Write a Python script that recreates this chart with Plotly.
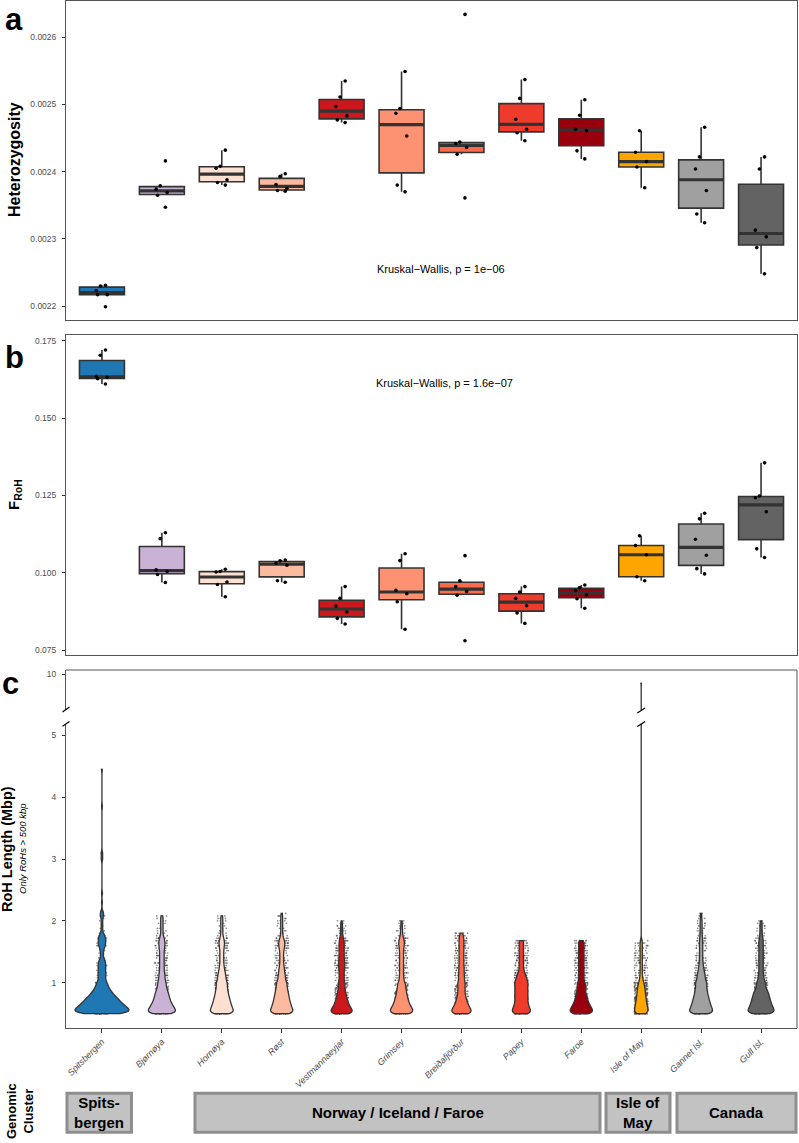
import numpy as np
import plotly.graph_objects as go

# ---------------- data ----------------
POPS = ["Spitsbergen", "Bjørnøya", "Hornøya", "Røst", "Vestmannaeyjar", "Grimsey",
        "Breiðafjörður", "Papey", "Faroe", "Isle of May", "Gannet Isl.", "Gull Isl."]

HET = [
    [0.002199, 0.002217, 0.002217, 0.002223, 0.002230, 0.002231],
    [0.002347, 0.002365, 0.002369, 0.002374, 0.002379, 0.002416],
    [0.002380, 0.002384, 0.002388, 0.002405, 0.002408, 0.002432],
    [0.002371, 0.002372, 0.002375, 0.002381, 0.002393, 0.002397],
    [0.002473, 0.002477, 0.002483, 0.002497, 0.002511, 0.002535],
    [0.002370, 0.002380, 0.002453, 0.002487, 0.002494, 0.002549],
    [0.002361, 0.002426, 0.002436, 0.002442, 0.002444, 0.002634],
    [0.002446, 0.002458, 0.002463, 0.002478, 0.002509, 0.002537],
    [0.002419, 0.002431, 0.002461, 0.002463, 0.002484, 0.002507],
    [0.002376, 0.002407, 0.002415, 0.002429, 0.002461],
    [0.002324, 0.002337, 0.002372, 0.002404, 0.002422, 0.002466],
    [0.002248, 0.002287, 0.002303, 0.002313, 0.002404, 0.002422],
]

FROH = [
    [0.1610, 0.1627, 0.1632, 0.1635, 0.1703, 0.1720],
    [0.0968, 0.0994, 0.1004, 0.1009, 0.1110, 0.1129],
    [0.0922, 0.0962, 0.0970, 0.1002, 0.1004, 0.1011],
    [0.0969, 0.0974, 0.1024, 0.1031, 0.1038, 0.1041],
    [0.0834, 0.0852, 0.0873, 0.0892, 0.0917, 0.0955],
    [0.0817, 0.0906, 0.0932, 0.0943, 0.1039, 0.1061],
    [0.0780, 0.0927, 0.0939, 0.0955, 0.0974, 0.1055],
    [0.0836, 0.0870, 0.0893, 0.0917, 0.0937, 0.0955],
    [0.0885, 0.0916, 0.0928, 0.0942, 0.0952, 0.0960],
    [0.0974, 0.0987, 0.1058, 0.1088, 0.1119],
    [0.0996, 0.1013, 0.1056, 0.1108, 0.1174, 0.1192],
    [0.1049, 0.1077, 0.1197, 0.1242, 0.1248, 0.1355],
]

# RoH length classes (Mbp) and number of RoHs (> 500 kbp) per class, per population
ROH_BINS_MBP = [0.50, 0.52, 0.54, 0.56, 0.58, 0.60, 0.62, 0.64, 0.66, 0.68, 0.70, 0.72, 0.74,
                0.76, 0.78, 0.80, 0.82, 0.84, 0.86, 0.88, 0.90, 0.92, 0.94, 0.96, 0.98,
                1.00, 1.04, 1.08, 1.12, 1.16, 1.20, 1.24, 1.28, 1.32, 1.36, 1.40, 1.44, 1.48,
                1.52, 1.56, 1.60, 1.64, 1.68, 1.72, 1.76, 1.80, 1.84, 1.88, 1.92, 1.96, 2.00,
                2.04, 2.08, 2.12, 2.16]
N_SPITSBERGEN = [20, 20, 19, 19, 18, 17, 16, 15, 14, 13, 12, 12, 11, 10, 9, 8, 8, 7, 6, 6, 5, 5, 4, 4, 3,
                 6, 5, 5, 5, 5, 5, 5, 5, 5, 4, 2, 2, 2, 2, 3, 5, 5, 5, 5, 4, 2, 1, 1, 1, 1, 1, 1, 2, 3, 1]
N_BJORNOYA = [20, 20, 19, 18, 17, 16, 15, 14, 13, 12, 12, 11, 10, 10, 10, 9, 9, 8, 8, 7, 7, 6, 6, 5, 5,
              9, 9, 8, 8, 7, 6, 6, 6, 6, 6, 6, 6, 6, 6, 7, 8, 8, 8, 6, 4, 3, 3, 3, 3, 3, 3, 3, 3, 0, 0]
N_HORNOYA = [20, 20, 19, 18, 17, 16, 16, 15, 14, 14, 13, 13, 12, 12, 11, 11, 10, 10, 10, 9, 9, 9, 8, 8, 8,
             14, 14, 13, 12, 11, 9, 8, 7, 6, 6, 6, 6, 6, 6, 7, 8, 9, 8, 6, 4, 3, 3, 3, 3, 3, 3, 3, 3, 0, 0]
N_ROST = [20, 20, 19, 18, 17, 16, 16, 15, 14, 14, 13, 13, 12, 12, 12, 11, 11, 10, 10, 10, 9, 9, 8, 8, 8,
          13, 13, 12, 11, 10, 9, 8, 7, 6, 6, 6, 6, 6, 7, 8, 10, 10, 9, 6, 4, 3, 3, 3, 3, 3, 3, 3, 3, 2, 0]
N_VESTMANNAEYJAR = [20, 19, 18, 17, 15, 14, 13, 12, 11, 10, 10, 9, 9, 8, 8, 7, 7, 6, 6, 6, 5, 5, 5, 5, 5,
                    8, 8, 8, 8, 8, 8, 9, 10, 10, 9, 8, 8, 8, 8, 8, 8, 8, 7, 6, 4, 3, 3, 3, 3, 2, 2, 0, 0, 0, 0]
N_GRIMSEY = [20, 19, 18, 17, 16, 15, 14, 13, 12, 11, 11, 10, 10, 9, 9, 8, 8, 8, 7, 7, 7, 6, 6, 6, 6,
             8, 7, 7, 6, 6, 6, 6, 6, 6, 6, 6, 6, 6, 6, 7, 8, 9, 8, 6, 4, 3, 3, 3, 2, 2, 2, 0, 0, 0, 0]
N_BREIDAFJORDUR = [20, 19, 18, 16, 15, 14, 13, 12, 11, 10, 9, 9, 8, 8, 7, 7, 6, 6, 6, 6, 6, 6, 6, 6, 6,
                   10, 10, 10, 10, 9, 9, 9, 8, 8, 8, 8, 8, 8, 8, 8, 8, 8, 8, 8, 6, 5, 0, 0, 0, 0, 0, 0, 0, 0, 0]
N_PAPEY = [20, 19, 18, 17, 16, 15, 14, 13, 13, 12, 12, 12, 12, 12, 12, 12, 12, 12, 12, 12, 12, 12, 11, 11, 11,
           22, 21, 19, 16, 12, 9, 8, 8, 8, 8, 8, 8, 8, 8, 8, 8, 8, 8, 0, 0, 0, 0, 0, 0, 0, 0, 0, 0, 0, 0]
N_FAROE = [20, 19, 18, 17, 16, 15, 14, 13, 12, 11, 10, 10, 9, 9, 8, 8, 7, 7, 7, 6, 6, 6, 6, 6, 6,
           9, 8, 8, 8, 8, 8, 8, 8, 8, 8, 8, 8, 8, 8, 8, 8, 8, 8, 0, 0, 0, 0, 0, 0, 0, 0, 0, 0, 0, 0]
N_ISLE_OF_MAY = [20, 19, 19, 18, 18, 17, 17, 16, 15, 15, 14, 14, 13, 13, 12, 12, 12, 11, 11, 11, 10, 10, 9, 8, 7,
                 12, 10, 8, 7, 6, 6, 6, 6, 6, 6, 6, 6, 6, 6, 6, 6, 6, 6, 0, 0, 0, 0, 0, 0, 0, 0, 0, 0, 0, 0]
N_GANNET = [20, 20, 19, 18, 17, 16, 16, 15, 14, 14, 13, 13, 12, 12, 11, 11, 10, 10, 10, 9, 9, 9, 8, 8, 8,
            15, 14, 13, 12, 11, 9, 8, 7, 6, 5, 5, 5, 5, 5, 5, 5, 5, 5, 4, 4, 3, 3, 3, 3, 3, 3, 2, 2, 2, 0]
N_GULL = [20, 20, 19, 18, 17, 16, 16, 15, 14, 14, 13, 13, 12, 12, 11, 11, 11, 10, 9, 8, 7, 7, 6, 6, 6,
          10, 9, 8, 7, 6, 6, 6, 6, 6, 6, 6, 6, 6, 6, 6, 6, 6, 6, 5, 4, 3, 3, 3, 3, 3, 2, 0, 0, 0, 0]
# individual long RoHs beyond the classes above
LONG_SPITSBERGEN = [2.30, 2.45, 3.00, 3.01, 3.08, 3.10, 3.85, 4.45]
LONG_ISLE_OF_MAY = [9.85]

ROH_COUNTS = [N_SPITSBERGEN, N_BJORNOYA, N_HORNOYA, N_ROST, N_VESTMANNAEYJAR, N_GRIMSEY,
              N_BREIDAFJORDUR, N_PAPEY, N_FAROE, N_ISLE_OF_MAY, N_GANNET, N_GULL]
ROH_LONG = [LONG_SPITSBERGEN, [], [], [], [], [], [], [], [], LONG_ISLE_OF_MAY, [], []]

CLUSTERS = ["Spits-<br>bergen", "Norway / Iceland / Faroe", "Isle of<br>May", "Canada"]

KW_A = "Kruskal−Wallis, p = 1e−06"
KW_B = "Kruskal−Wallis, p = 1.6e−07"

# ---------------- styles ----------------
COLORS = ["#1F78B4", "#CAB2D6", "#FEE0D2", "#FCBBA1", "#CB181D", "#FC9272",
          "#FB6A4A", "#EF3B2C", "#99000D", "#FFA500", "#A0A0A0", "#636363"]
VIOLIN_WIDTH = [0.90, 0.45, 0.38, 0.37, 0.35, 0.37, 0.32, 0.30, 0.37, 0.22, 0.38, 0.43]
W, H = 799, 1143
FONT = "Liberation Sans, Arial, Helvetica, sans-serif"
NARROW = "Liberation Sans Narrow, Arial Narrow, Liberation Sans, Arial, sans-serif"
EDGE = "#333333"
FRAME = "#555555"
TICKC = "#4D4D4D"


def px(x):
    return x / W


def py(y):
    return 1 - y / H


XDOM = [px(66), px(797)]
XR = [-0.6, len(POPS) - 1 + 0.6]
LOW_RANGE = [0.2676, 5.1827]
HIGH_RANGE = [9.418, 10.0647]


def box_stats(v):
    v = np.sort(np.asarray(v, dtype=float))
    q1, med, q3 = np.percentile(v, [25, 50, 75])
    iqr = q3 - q1
    lo = min(v[v >= q1 - 1.5 * iqr].min(), q1)
    hi = max(v[v <= q3 + 1.5 * iqr].max(), q3)
    return q1, med, q3, lo, hi


fig = go.Figure()

# ---------------- panels a & b (boxplots + jittered samples) ----------------
for data, xa, ya in [(HET, "x", "y"), (FROH, "x2", "y2")]:
    for i, vals in enumerate(data):
        q1, med, q3, lo, hi = box_stats(vals)
        fig.add_trace(go.Box(x=[i], q1=[q1], median=[med], q3=[q3], lowerfence=[lo], upperfence=[hi],
                             width=0.75, fillcolor=COLORS[i], line=dict(color=EDGE, width=1.6),
                             whiskerwidth=0, boxpoints=False, xaxis=xa, yaxis=ya,
                             showlegend=False, hoverinfo="skip"))
        fig.add_trace(go.Box(x=[i], q1=[med], median=[med], q3=[med], lowerfence=[med], upperfence=[med],
                             width=0.75, fillcolor="rgba(0,0,0,0)", line=dict(color=EDGE, width=3.2),
                             whiskerwidth=0, boxpoints=False, xaxis=xa, yaxis=ya,
                             showlegend=False, hoverinfo="skip"))
        fig.add_trace(go.Box(y=vals, x0=i, width=0.75, fillcolor="rgba(0,0,0,0)",
                             line=dict(color="rgba(0,0,0,0)", width=0), whiskerwidth=0,
                             boxpoints="all", jitter=0.3, pointpos=0,
                             marker=dict(color="black", size=3.6), xaxis=xa, yaxis=ya,
                             showlegend=False, hoverinfo="skip"))

# ---------------- panel c (violins on a broken axis) ----------------
ROH = [np.concatenate([np.repeat(ROH_BINS_MBP, n), np.asarray(extra, dtype=float)])
       for n, extra in zip(ROH_COUNTS, ROH_LONG)]

# jittered RoHs underneath the violins (base subplots y3 / y4)
for i, vals in enumerate(ROH):
    for ya in ["y3", "y4"]:
        fig.add_trace(go.Box(y=vals, x0=i, width=0.46, fillcolor="rgba(0,0,0,0)",
                             line=dict(color="rgba(0,0,0,0)", width=0), whiskerwidth=0,
                             boxpoints="all", jitter=0.5, pointpos=0,
                             marker=dict(size=1.7, color="rgba(50,50,50,0.55)"),
                             xaxis="x3", yaxis=ya, showlegend=False, hoverinfo="skip"))
# violin bodies on overlaying axes y5 / y6 (drawn on top)
for i, vals in enumerate(ROH):
    for ya in ["y5", "y6"]:
        fig.add_trace(go.Violin(y=vals, x0=i, width=VIOLIN_WIDTH[i], scalemode="width",
                                scalegroup="g%d" % i, spanmode="hard", bandwidth=0.035,
                                fillcolor=COLORS[i], opacity=1, line=dict(color=EDGE, width=1.3),
                                points=False, box_visible=False, meanline_visible=False,
                                xaxis="x3", yaxis=ya, showlegend=False, hoverinfo="skip"))

axis_common = dict(showgrid=False, zeroline=False, linecolor=FRAME, linewidth=1,
                   automargin=False, type="linear")
ytick_common = dict(ticks="outside", ticklen=3, tickwidth=1, tickcolor=EDGE, ticklabelstandoff=4,
                    tickfont=dict(family=FONT, size=8.5, color=TICKC))
hidden = dict(visible=False, showgrid=False, zeroline=False, showline=False, ticks="",
              showticklabels=False, automargin=False, type="linear")

fig.update_layout(
    width=W, height=H, margin=dict(l=0, r=0, t=0, b=0),
    paper_bgcolor="white", plot_bgcolor="white", template="none",
    showlegend=False, boxmode="overlay", violinmode="overlay",
    font=dict(family=FONT),
    xaxis=dict(domain=XDOM, range=XR, anchor="y", showticklabels=False, ticks="",
               showline=True, mirror=True, **axis_common),
    yaxis=dict(domain=[py(320), py(0.7)], range=[0.0021793, 0.0026544], anchor="x",
               tickvals=[0.0022, 0.0023, 0.0024, 0.0025, 0.0026],
               ticktext=["0.0022", "0.0023", "0.0024", "0.0025", "0.0026"],
               showline=True, mirror=True, **ytick_common, **axis_common),
    xaxis2=dict(domain=XDOM, range=XR, anchor="y2", showticklabels=False, ticks="",
                showline=True, mirror=True, **axis_common),
    yaxis2=dict(domain=[py(654.7), py(335)], range=[0.07348, 0.17684], anchor="x2",
                tickvals=[0.075, 0.100, 0.125, 0.150, 0.175],
                ticktext=["0.075", "0.100", "0.125", "0.150", "0.175"],
                showline=True, mirror=True, **ytick_common, **axis_common),
    xaxis3=dict(domain=XDOM, range=XR, anchor="y3", tickvals=list(range(len(POPS))), ticktext=POPS,
                tickangle=-45, ticks="outside", ticklen=4, tickwidth=1, tickcolor=EDGE,
                tickfont=dict(family=FONT, size=9, color=TICKC, style="italic"),
                showline=True, mirror=False, **axis_common),
    yaxis3=dict(domain=[py(1028), py(724)], range=LOW_RANGE, anchor="x3",
                tickvals=[1, 2, 3, 4, 5], ticktext=["1", "2", "3", "4", "5"],
                showline=True, mirror=False, **ytick_common, **axis_common),
    yaxis4=dict(domain=[py(710), py(670)], range=HIGH_RANGE, anchor="x3",
                tickvals=[10], ticktext=["10"],
                showline=True, mirror=False, **ytick_common, **axis_common),
    yaxis5=dict(overlaying="y3", anchor="x3", range=LOW_RANGE, **hidden),
    yaxis6=dict(overlaying="y4", anchor="x3", range=HIGH_RANGE, **hidden),
)

shapes = []
# panel c frame: top and right edges
shapes.append(dict(type="line", xref="paper", yref="paper", x0=px(66), x1=px(797), y0=py(670), y1=py(670),
                   line=dict(color=FRAME, width=1)))
shapes.append(dict(type="line", xref="paper", yref="paper", x0=px(797), x1=px(797), y0=py(670), y1=py(1028),
                   line=dict(color=FRAME, width=1)))
# axis-break slashes on the y axis
for yb in (709.5, 723.8):
    shapes.append(dict(type="line", xref="paper", yref="paper", x0=px(62.5), x1=px(69.5),
                       y0=py(yb + 2.4), y1=py(yb - 2.4), line=dict(color="black", width=1.2)))
# axis-break slashes on the Isle of May violin
iom = POPS.index("Isle of May")
for yb in (710.5, 724.0):
    shapes.append(dict(type="line", xref="x3", yref="paper", x0=iom - 0.065, x1=iom + 0.065,
                       y0=py(yb + 2.4), y1=py(yb - 2.4), line=dict(color="black", width=1.2)))
# genomic cluster boxes
CLUSTER_PX = [(67, 131.5), (195, 600), (606, 670), (677, 796)]
for (x0, x1) in CLUSTER_PX:
    shapes.append(dict(type="rect", xref="paper", yref="paper", x0=px(x0), x1=px(x1),
                       y0=py(1132.3), y1=py(1093.3), fillcolor="#C2C2C2",
                       line=dict(color="#8E8E8E", width=3)))
fig.update_layout(shapes=shapes)

ann = []


def add_text(text, x, y, size, bold=False, italic=False, angle=0, color="black", family=FONT,
             xanchor="center", yanchor="middle"):
    ann.append(dict(text=text, x=px(x), y=py(y), xref="paper", yref="paper", showarrow=False,
                    textangle=angle, xanchor=xanchor, yanchor=yanchor,
                    font=dict(family=family, size=size, color=color,
                              weight="bold" if bold else "normal",
                              style="italic" if italic else "normal")))


add_text("a", 3, 0, 31, bold=True, xanchor="left", yanchor="top")
add_text("b", 3, 357, 31, bold=True, xanchor="left")
add_text("c", 0, 683, 31, bold=True, xanchor="left")
add_text("Heterozygosity", 14, 160, 16, bold=True, angle=-90)
add_text("F<sub>RoH</sub>", 14, 495, 15, bold=True, angle=-90)
add_text("RoH Length (Mbp)", 7, 849, 14.5, bold=True, angle=-90)
add_text("Only RoHs > 500 kbp", 22, 849, 9.5, italic=True, angle=-90)
add_text(KW_A, 441, 269, 11)
add_text(KW_B, 444, 383, 11)
add_text("Genomic<br>Cluster", 20, 1111, 13, bold=True, angle=-90)
for name, (x0, x1) in zip(CLUSTERS, CLUSTER_PX):
    add_text(name, (x0 + x1) / 2, 1112.8, 15, bold=True, family=NARROW)
fig.update_layout(annotations=ann)

fig.write_html("out.html", config={"displayModeBar": False},
               post_script="document.body.style.margin='0px';document.body.style.padding='0px';")
